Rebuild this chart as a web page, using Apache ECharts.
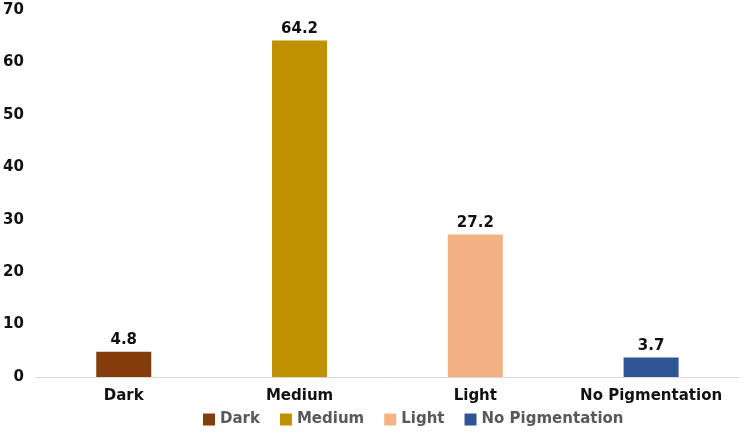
<!DOCTYPE html>
<html>
<head>
<meta charset="utf-8">
<script src="https://cdn.jsdelivr.net/npm/echarts@6/dist/echarts.min.js"></script>
<style>
html, body { margin: 0; padding: 0; background: #fff; }
#chart { width: 744px; height: 436px; }
</style>
</head>
<body>
<div id="chart"></div>
<script>
var categories = ['Dark', 'Medium', 'Light', 'No Pigmentation'];
var values = [4.8, 64.2, 27.2, 3.7];
var colors = ['#843C0C', '#BF9000', '#F4B183', '#2F5597'];
var yTicks = [0, 70, 10]; // min, max, interval

var chart = echarts.init(document.getElementById('chart'));

// one series per category so the legend shows each colour
var series = [];
for (var i = 0; i < categories.length; i++) {
	var d = [];
	for (var j = 0; j < categories.length; j++) {
		d.push(j == i ? values[i] : '-');
	}
	series.push({
		name : categories[i],
		type : 'bar',
		stack : 'all',
		barWidth : 55,
		itemStyle : { color : colors[i] },
		label : {
			show : true,
			position : 'top',
			distance : 4,
			color : '#111',
			fontFamily : 'DejaVu Sans',
			fontWeight : 'bold',
			fontSize : 15
		},
		data : d
	});
}

chart.setOption({
	animation : false,
	textStyle : { fontFamily : 'DejaVu Sans' },
	grid : { left : 35, right : 5, top : 10, bottom : 59 },
	legend : {
		bottom : 4,
		left : 198,
		icon : 'rect',
		itemWidth : 12,
		itemHeight : 12,
		itemGap : 20,
		textStyle : { color : '#595959', fontSize : 15, fontWeight : 'bold', fontFamily : 'DejaVu Sans' },
		data : categories
	},
	xAxis : {
		type : 'category',
		data : categories,
		axisLine : { lineStyle : { color : '#d9d9d9' } },
		axisTick : { show : false },
		axisLabel : { color : '#111', fontWeight : 'bold', fontSize : 15, margin : 12, interval : 0 }
	},
	yAxis : {
		type : 'value',
		min : yTicks[0],
		max : yTicks[1],
		interval : yTicks[2],
		splitLine : { show : false },
		axisLine : { show : false },
		axisTick : { show : false },
		axisLabel : { color : '#111', fontWeight : 'bold', fontSize : 15, margin : 12 }
	},
	series : series
});
</script>
</body>
</html>
